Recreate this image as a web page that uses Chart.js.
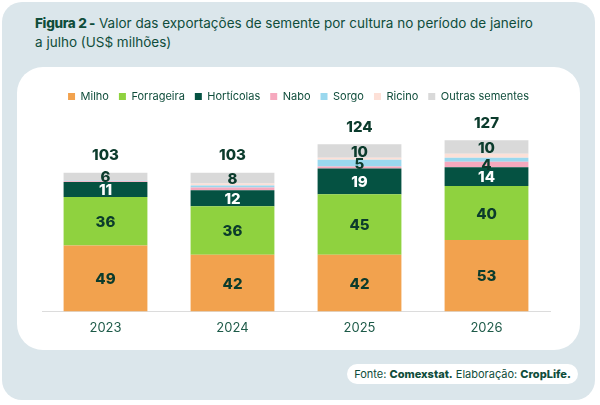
<!DOCTYPE html>
<html lang="pt">
<head>
<meta charset="utf-8">
<script src="https://cdn.jsdelivr.net/npm/chart.js@4.4.1/dist/chart.umd.min.js"></script>
<style>
  html, body { margin: 0; padding: 0; background: #fff; }
  body { width: 600px; height: 405px; position: relative; overflow: hidden; font-family: Inter, "Noto Sans", sans-serif; }
  #frame { position: absolute; left: 2px; top: 2px; width: 593px; height: 398px; background: #dbe6eb; border-radius: 20px; }
  #title { position: absolute; left: 35px; top: 14px; font-size: 13.5px; line-height: 19px; color: #0f4d3b; }
  #title b { font-weight: 800; letter-spacing: -0.3px; }
  #card { position: absolute; left: 17px; top: 67px; width: 563px; height: 283px; background: #fff; border-radius: 26px; }
  #card canvas { position: absolute; left: 0; top: 0; }
  #footer { position: absolute; left: 347px; top: 364px; width: 231px; height: 20px; background: #fff; border-radius: 10px;
            font-size: 11px; line-height: 20px; text-align: center; color: #0f4d3b; }
  #footer b { font-weight: 800; }
</style>
</head>
<body>
<div id="frame"></div>
<div id="title"><b>Figura 2 -</b> Valor das exportações de semente por cultura no período de janeiro<br>a julho (US$ milhões)</div>
<div id="card"><canvas id="chart" width="563" height="283"></canvas></div>
<div id="footer">Fonte: <b>Comexstat.</b> Elaboração: <b>CropLife.</b></div>
<script>
// values (US$ milhões)
const YEARS = ["2023", "2024", "2025", "2026"];
const MILHO = [49, 42, 42, 53];
const FORRAGEIRA = [36, 36, 45, 40];
const HORTICOLAS = [11, 12, 19, 14];
const NABO = [0.6, 2, 1.5, 4];
const SORGO = [0.3, 1.5, 5, 3];
const RICINO = [0.1, 1.5, 1.5, 3];
const OUTRAS = [6, 8, 10, 10];
const TOTALS = [103, 103, 124, 127];

const DARK = "#0b3b2c";

// numbers inside the segments + totals on top
const labelsPlugin = {
  id: "stackLabels",
  afterDatasetsDraw(chart) {
    const ctx = chart.ctx;
    ctx.save();
    ctx.textAlign = "center";
    ctx.textBaseline = "middle";
    ctx.font = "800 15px Inter, sans-serif";

    chart.data.datasets.forEach((ds, i) => {
      const meta = chart.getDatasetMeta(i);
      meta.data.forEach((bar, j) => {
        const v = ds.data[j];
        if (v < 4) return;
        ctx.fillStyle = ds.labelColor || DARK;
        ctx.fillText(String(v), bar.x, (bar.y + bar.base) / 2 + 1);
      });
    });

    const last = chart.getDatasetMeta(chart.data.datasets.length - 1);
    last.data.forEach((bar, j) => {
      ctx.fillStyle = DARK;
      ctx.fillText(String(TOTALS[j]), bar.x, bar.y - 17);
    });
    ctx.restore();
  }
};

// empty side gutters so the legend can use the full card width
const gutter = (w) => ({
  display: true,
  grid: { display: false },
  border: { display: false },
  ticks: { display: false },
  afterFit(scale) { scale.width = w; }
});

new Chart(document.getElementById("chart"), {
  type: "bar",
  data: {
    labels: YEARS,
    datasets: [
      { label: "Milho", data: MILHO, backgroundColor: "#f2a24e" },
      { label: "Forrageira", data: FORRAGEIRA, backgroundColor: "#8fd23f" },
      { label: "Hortícolas", data: HORTICOLAS, backgroundColor: "#055242", labelColor: "#ffffff" },
      { label: "Nabo", data: NABO, backgroundColor: "#f6a9be" },
      { label: "Sorgo", data: SORGO, backgroundColor: "#9ad8ee" },
      { label: "Ricino", data: RICINO, backgroundColor: "#fde0d7" },
      { label: "Outras sementes", data: OUTRAS, backgroundColor: "#d9d9d9" }
    ]
  },
  options: {
    responsive: false,
    animation: false,
    layout: { padding: { top: 14, left: 0, right: 0, bottom: 13 } },
    datasets: { bar: { categoryPercentage: 1, barPercentage: 0.66 } },
    scales: {
      x: {
        stacked: true,
        grid: { display: false },
        border: { display: true, color: "#dcdcdc", width: 1 },
        ticks: { color: "#1d5a48", padding: 1, font: { family: "Inter", size: 13 } }
      },
      y: Object.assign(gutter(25), { stacked: true, position: "left", min: 0, max: 148 }),
      yRight: Object.assign(gutter(30), { position: "right", min: 0, max: 148 })
    },
    plugins: {
      legend: {
        position: "top",
        labels: {
          boxWidth: 7,
          boxHeight: 7,
          padding: 10,
          color: "#0f4d3b",
          font: { family: "Inter", size: 11 }
        }
      },
      tooltip: { enabled: false }
    }
  },
  plugins: [labelsPlugin]
});
</script>
</body>
</html>
